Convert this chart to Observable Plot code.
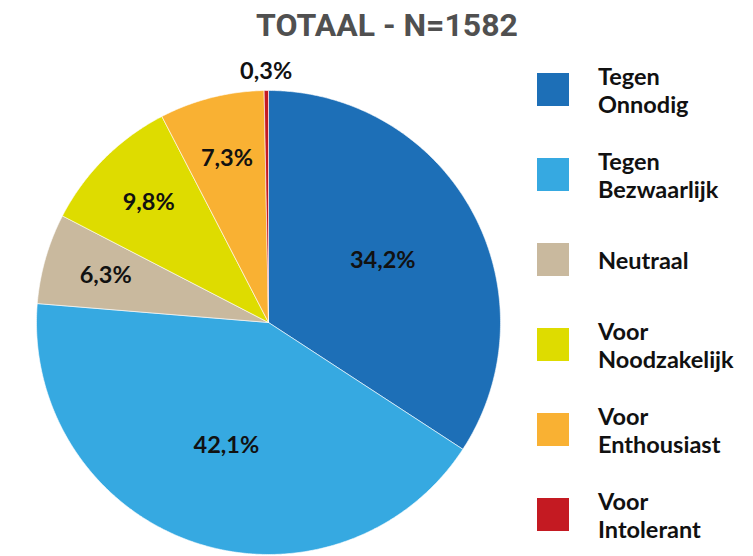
<!DOCTYPE html>
<html><head><meta charset="utf-8">
<script src="https://cdn.jsdelivr.net/npm/d3@7"></script>
<script src="https://cdn.jsdelivr.net/npm/@observablehq/plot@0.6"></script>
<style>
body{margin:0;background:#fff}
#wrap{position:relative;width:753px;height:556px;overflow:hidden;background:#fff}
#chart{position:absolute;left:0;top:0}
#title{position:absolute;left:0;width:774px;text-align:center;top:9px;font-family:Roboto,sans-serif;font-weight:700;font-size:32px;line-height:32px;color:#505050;white-space:nowrap}
.row{position:absolute;left:537px;height:33px;display:flex;align-items:center}
.sw{width:32px;height:33px;flex:none}
.lb{margin-left:29px;font-family:Lato,sans-serif;font-weight:700;font-size:23.5px;line-height:28px;color:#111;white-space:nowrap}
</style></head>
<body>
<div id="wrap"><div id="chart"></div><div id="title"></div><div id="legend"></div></div>
<script>
const title = "TOTAAL - N=1582";
const categories = ["Tegen Onnodig", "Tegen Bezwaarlijk", "Neutraal", "Voor Noodzakelijk", "Voor Enthousiast", "Voor Intolerant"];
const values = [34.2, 42.1, 6.3, 9.8, 7.3, 0.3];
const colors = ["#1d6fb7", "#36a9e1", "#c9b99e", "#dedc00", "#f9b133", "#c41a22"];

document.getElementById("title").textContent = title;

const total = d3.sum(values);
let acc = 0;
const slices = categories.map((c, i) => {
  const a0 = acc / total * 2 * Math.PI; acc += values[i];
  const a1 = acc / total * 2 * Math.PI;
  return {c, v: values[i], a0, a1};
});
const pts = [];
for (const s of slices) {
  pts.push({c: s.c, x: 0, y: 0});
  const n = Math.max(2, Math.ceil((s.a1 - s.a0) / (Math.PI / 360)));
  for (let k = 0; k <= n; k++) {
    const a = s.a0 + (s.a1 - s.a0) * k / n;
    pts.push({c: s.c, x: Math.sin(a), y: Math.cos(a)});
  }
  pts.push({c: s.c, x: 0, y: 0});
}
const labels = slices.map(s => {
  const m = (s.a0 + s.a1) / 2;
  const f = s.v > 20 ? 0.56 : s.v >= 1 ? 0.73 : 1.08;
  return {x: f * Math.sin(m), y: f * Math.cos(m), t: d3.format(".1f")(s.v).replace(".", ",") + "%"};
});

const chart = Plot.plot({
  width: 753, height: 556,
  marginLeft: 36, marginRight: 253, marginTop: 90, marginBottom: 2,
  x: {domain: [-1, 1], axis: null},
  y: {domain: [-1, 1], axis: null},
  color: {domain: categories, range: colors},
  style: {overflow: "visible", background: "transparent"},
  marks: [
    Plot.line(pts, {x: "x", y: "y", z: "c", fill: "c", stroke: "white", strokeWidth: 0.6, strokeLinejoin: "round"}),
    Plot.text(labels, {x: "x", y: "y", text: "t", fontSize: 23.5, fontWeight: 700, fontFamily: "Lato", fill: "#111"})
  ]
});
document.getElementById("chart").appendChild(chart);

const legend = document.getElementById("legend");
const color = chart.scale("color");
categories.forEach((c, i) => {
  const row = document.createElement("div");
  row.className = "row";
  row.style.top = (73 + 85 * i) + "px";
  const sw = document.createElement("div");
  sw.className = "sw"; sw.style.background = color.apply(c);
  const lb = document.createElement("div");
  lb.className = "lb";
  const sp = c.indexOf(" ");
  if (sp > 0) {
    lb.appendChild(document.createTextNode(c.slice(0, sp)));
    lb.appendChild(document.createElement("br"));
    lb.appendChild(document.createTextNode(c.slice(sp + 1)));
  } else lb.textContent = c;
  row.appendChild(sw); row.appendChild(lb);
  legend.appendChild(row);
});
</script>
</body></html>
